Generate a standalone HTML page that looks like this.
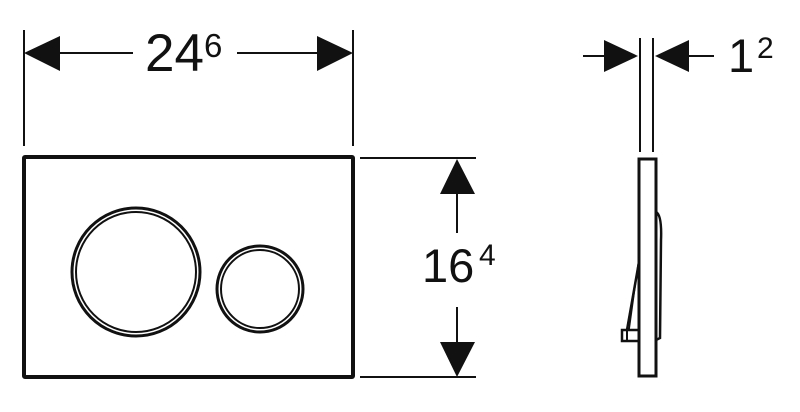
<!DOCTYPE html>
<html><head><style>
html,body{margin:0;padding:0;background:#fff;}
svg{display:block;}
text{font-family:"Liberation Sans",sans-serif;fill:#111;}
</style></head><body>
<svg width="800" height="412" viewBox="0 0 800 412" xmlns="http://www.w3.org/2000/svg">
<g stroke="#111" fill="none">
<!-- top dimension -->
<line x1="24" y1="30" x2="24" y2="146" stroke-width="2"/>
<line x1="353" y1="30" x2="353" y2="146" stroke-width="2"/>
<line x1="58" y1="53" x2="133" y2="53" stroke-width="2"/>
<line x1="237" y1="53" x2="320" y2="53" stroke-width="2"/>
<!-- plate -->
<rect x="24" y="157" width="329" height="220" stroke-width="4" rx="1"/>
<circle cx="136" cy="272" r="64" stroke-width="3"/>
<circle cx="136" cy="272" r="60" stroke-width="2"/>
<circle cx="260" cy="289" r="43" stroke-width="3"/>
<circle cx="260" cy="289" r="39" stroke-width="2"/>
<!-- right dimension -->
<line x1="360" y1="158" x2="476" y2="158" stroke-width="2"/>
<line x1="360" y1="377" x2="476" y2="377" stroke-width="2"/>
<line x1="457" y1="192" x2="457" y2="233" stroke-width="2"/>
<line x1="457" y1="307" x2="457" y2="344" stroke-width="2"/>
<!-- side view -->
<line x1="640" y1="38" x2="640" y2="152" stroke-width="2"/>
<line x1="653" y1="38" x2="653" y2="152" stroke-width="2"/>
<line x1="583" y1="56" x2="605" y2="56" stroke-width="2"/>
<line x1="688" y1="56" x2="714" y2="56" stroke-width="2"/>
<rect x="639" y="159" width="17" height="217" stroke-width="3"/>
<path d="M656 212 Q662 215 661 240 L660 338 L656 340" stroke-width="2.5"/>
<path d="M639 262 L627 330" stroke-width="2.5"/>
<path d="M639 258 L629 330" stroke-width="1.5"/>
<rect x="622" y="330" width="17" height="11" stroke-width="2.5"/>
<line x1="627" y1="330" x2="627" y2="341" stroke-width="2"/>
</g>
<g fill="#111">
<polygon points="24,53 60,36 60,71"/>
<polygon points="353,53 317,36 317,71"/>
<polygon points="457,159 440,194 475,194"/>
<polygon points="457,377 440,342 475,342"/>
<polygon points="638,56 604,40 604,72"/>
<polygon points="655,56 689,40 689,72"/>
</g>
<text x="145" y="71" font-size="53">24</text>
<text x="204" y="57" font-size="33">6</text>
<text x="422" y="282" font-size="47">16</text>
<text x="479" y="265" font-size="30">4</text>
<text x="728" y="72" font-size="47">1</text>
<text x="757" y="58" font-size="30">2</text>
</svg>
</body></html>
